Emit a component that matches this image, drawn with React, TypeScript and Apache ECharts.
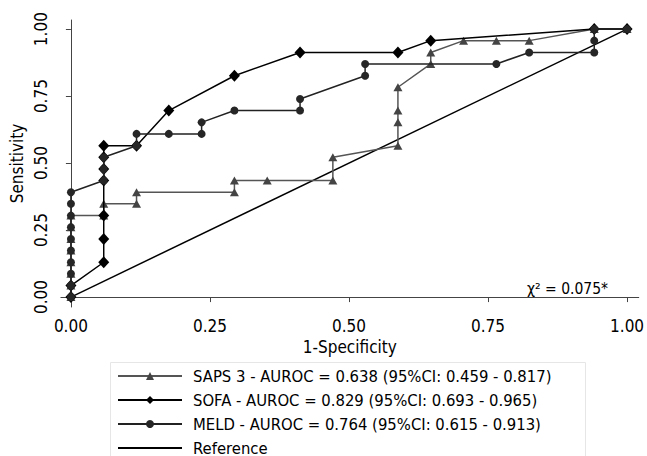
import React, { useEffect, useRef } from "react";
import * as echarts from "echarts";

const xTicks = [0, 0.25, 0.5, 0.75, 1];
const yTicks = [0, 0.25, 0.5, 0.75, 1];

const sapsX = [0, 0, 0, 0, 0, 0, 0, 0, 0.059, 0.059, 0.118, 0.118, 0.294, 0.294, 0.353, 0.471, 0.471, 0.588, 0.588, 0.588, 0.588, 0.647, 0.647, 0.706, 0.765, 0.824, 0.941, 1];
const sapsY = [0, 0.043, 0.087, 0.13, 0.174, 0.217, 0.261, 0.304, 0.304, 0.348, 0.348, 0.391, 0.391, 0.435, 0.435, 0.435, 0.522, 0.565, 0.652, 0.696, 0.783, 0.87, 0.913, 0.957, 0.957, 0.957, 1, 1];

const sofaX = [0, 0, 0.059, 0.059, 0.059, 0.059, 0.059, 0.059, 0.059, 0.118, 0.176, 0.294, 0.412, 0.588, 0.647, 0.941, 1];
const sofaY = [0, 0.043, 0.13, 0.217, 0.304, 0.435, 0.478, 0.522, 0.565, 0.565, 0.696, 0.826, 0.913, 0.913, 0.957, 1, 1];

const meldX = [0, 0, 0, 0, 0, 0, 0, 0, 0, 0, 0.059, 0.059, 0.059, 0.118, 0.118, 0.176, 0.235, 0.235, 0.294, 0.412, 0.412, 0.529, 0.529, 0.765, 0.824, 0.941, 0.941, 0.941, 1];
const meldY = [0, 0.043, 0.087, 0.13, 0.174, 0.217, 0.261, 0.304, 0.348, 0.391, 0.435, 0.478, 0.522, 0.565, 0.609, 0.609, 0.609, 0.652, 0.696, 0.696, 0.739, 0.826, 0.87, 0.87, 0.913, 0.913, 0.957, 1, 1];

const refX = [0, 1];
const refY = [0, 1];

const seriesNames = [
  "SAPS 3 - AUROC = 0.638 (95%CI: 0.459 - 0.817)",
  "SOFA - AUROC = 0.829 (95%CI: 0.693 - 0.965)",
  "MELD - AUROC = 0.764 (95%CI: 0.615 - 0.913)",
  "Reference",
];

const chiText = "χ² = 0.075*";

const FONT = "'Liberation Sans Narrow', 'Arial Narrow', 'DejaVu Sans Condensed', sans-serif";

const zip = (xs: number[], ys: number[]) => xs.map((x, i) => [x, ys[i]]);

export default function App() {
  const ref = useRef<HTMLDivElement>(null);
  useEffect(() => {
    if (!ref.current) return;
    const chart = echarts.init(ref.current, null, { renderer: "svg" });
    chart.setOption({
      animation: false,
      backgroundColor: "#fff",
      textStyle: { fontFamily: FONT },
      grid: { left: 57, right: 7, top: 20, bottom: 149, containLabel: false },
      xAxis: {
        type: "value",
        min: -0.018,
        max: 1.021,
        name: "1-Specificity",
        nameLocation: "middle",
        nameGap: 31,
        nameTextStyle: { fontFamily: FONT, fontSize: 17, color: "#000" },
        axisLine: { show: true, lineStyle: { color: "#444", width: 1 } },
        axisTick: { show: true, length: 5, lineStyle: { color: "#444" }, customValues: xTicks },
        axisLabel: { fontFamily: FONT, fontSize: 17, color: "#000", margin: 10, customValues: xTicks, formatter: (v: number) => v.toFixed(2) },
        splitLine: { show: false },
      },
      yAxis: {
        type: "value",
        min: -0.037,
        max: 1.034,
        name: "Sensitivity",
        nameLocation: "middle",
        nameGap: 32,
        nameRotate: 90,
        nameTextStyle: { fontFamily: FONT, fontSize: 17, color: "#000" },
        axisLine: { show: true, lineStyle: { color: "#444", width: 1 } },
        axisTick: { show: true, length: 5, lineStyle: { color: "#444" }, customValues: yTicks },
        axisLabel: { fontFamily: FONT, fontSize: 17, color: "#000", margin: 11, rotate: 90, customValues: yTicks, formatter: (v: number) => v.toFixed(2) },
        splitLine: { show: false },
      },
      legend: {
        orient: "vertical",
        left: 117,
        top: 366,
        height: 140,
        itemWidth: 64,
        itemHeight: 10,
        itemGap: 4,
        padding: 0,
        data: [
          seriesNames[0],
          seriesNames[1],
          seriesNames[2],
          { name: seriesNames[3], itemStyle: { opacity: 0, color: "rgba(0,0,0,0)", borderWidth: 0 } },
        ],
        textStyle: { fontFamily: FONT, fontSize: 16.5, color: "#000", lineHeight: 20, padding: [0, 0, 0, 6] },
      },
      graphic: [
        {
          type: "rect",
          shape: { x: 110.5, y: 362.5, width: 475, height: 120 },
          style: { fill: "none", stroke: "#e6e6e6", lineWidth: 1 },
          silent: true,
        },
        {
          type: "text",
          x: 527,
          y: 289,
          style: { text: chiText, font: `15.5px ${FONT}`, fill: "#000", verticalAlign: "middle" },
          silent: true,
        },
      ],
      series: [
        {
          name: seriesNames[3],
          type: "line",
          data: zip(refX, refY),
          symbol: "none",
          lineStyle: { color: "#000", width: 1.5 },
          itemStyle: { color: "#000" },
          z: 1,
        },
        {
          name: seriesNames[0],
          type: "line",
          data: zip(sapsX, sapsY),
          symbol: "triangle",
          symbolSize: [9, 8],
          showAllSymbol: true,
          lineStyle: { color: "#555", width: 1.5 },
          itemStyle: { color: "#444" },
          z: 2,
        },
        {
          name: seriesNames[1],
          type: "line",
          data: zip(sofaX, sofaY),
          symbol: "diamond",
          symbolSize: [11, 12],
          showAllSymbol: true,
          lineStyle: { color: "#000", width: 1.5 },
          itemStyle: { color: "#000" },
          z: 3,
        },
        {
          name: seriesNames[2],
          type: "line",
          data: zip(meldX, meldY),
          symbol: "circle",
          symbolSize: 8,
          showAllSymbol: true,
          lineStyle: { color: "#222", width: 1.5 },
          itemStyle: { color: "#262626" },
          z: 4,
        },
      ],
    });
    return () => chart.dispose();
  }, []);
  return <div ref={ref} style={{ position: "fixed", left: 0, top: 0, width: 647, height: 456 }} />;
}
